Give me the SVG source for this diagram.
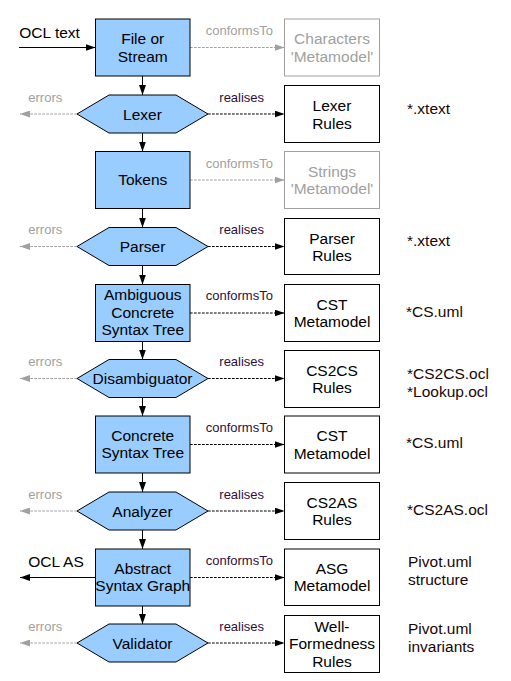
<svg xmlns="http://www.w3.org/2000/svg" width="511" height="681" viewBox="0 0 511 681">
<defs>
<style>
text{font-family:"Liberation Sans",Arial,sans-serif;}
.t{font-size:15.5px;fill:#000;text-anchor:middle;}
.g{font-size:15.5px;fill:#a0a0a0;text-anchor:middle;}
.f{font-size:15.5px;fill:#1a0505;}
.lb{font-size:13px;fill:#2e0f3e;}
.lg{font-size:13px;fill:#a0a0a0;}
.box{fill:#99ccff;stroke:#000;stroke-width:1;}
.rb{fill:#fff;stroke:#000;stroke-width:1;}
.rg{fill:#fff;stroke:#a0a0a0;stroke-width:1;}
.s{stroke:#000;stroke-width:1;fill:none;}
.d{stroke:#000;stroke-width:1;fill:none;stroke-dasharray:2.7,1.3;}
.dg{stroke:#a0a0a0;stroke-width:1;fill:none;stroke-dasharray:2.7,1.3;}
</style>
<marker id="ab" viewBox="0 0 10 7" refX="10" refY="3.5" markerWidth="10" markerHeight="7" markerUnits="userSpaceOnUse" orient="auto"><path d="M0,0 L10,3.5 L0,7 z" fill="#000"/></marker>
<marker id="ag" viewBox="0 0 10 7" refX="10" refY="3.5" markerWidth="10" markerHeight="7" markerUnits="userSpaceOnUse" orient="auto"><path d="M0,0 L10,3.5 L0,7 z" fill="#a0a0a0"/></marker>
</defs>
<rect width="511" height="681" fill="#fff"/>

<g id="connectors">
<line class="s" x1="19" y1="47.5" x2="95.5" y2="47.5" marker-end="url(#ab)"/>
<line class="s" x1="95.5" y1="577.5" x2="20" y2="577.5" marker-end="url(#ab)"/>
<line class="s" x1="142.5" y1="76" x2="142.5" y2="95" marker-end="url(#ab)"/>
<line class="s" x1="142.5" y1="133" x2="142.5" y2="151.5" marker-end="url(#ab)"/>
<line class="s" x1="142.5" y1="208.5" x2="142.5" y2="227.5" marker-end="url(#ab)"/>
<line class="s" x1="142.5" y1="265.5" x2="142.5" y2="284.5" marker-end="url(#ab)"/>
<line class="s" x1="142.5" y1="341.5" x2="142.5" y2="359.5" marker-end="url(#ab)"/>
<line class="s" x1="142.5" y1="397.5" x2="142.5" y2="416" marker-end="url(#ab)"/>
<line class="s" x1="142.5" y1="473" x2="142.5" y2="492" marker-end="url(#ab)"/>
<line class="s" x1="142.5" y1="530" x2="142.5" y2="549" marker-end="url(#ab)"/>
<line class="s" x1="142.5" y1="606" x2="142.5" y2="624" marker-end="url(#ab)"/>
<line class="dg" x1="77" y1="114" x2="20" y2="114" marker-end="url(#ag)"/>
<line class="dg" x1="77" y1="246.5" x2="20" y2="246.5" marker-end="url(#ag)"/>
<line class="dg" x1="77" y1="378.5" x2="20" y2="378.5" marker-end="url(#ag)"/>
<line class="dg" x1="77" y1="511" x2="20" y2="511" marker-end="url(#ag)"/>
<line class="dg" x1="77" y1="643" x2="20" y2="643" marker-end="url(#ag)"/>
<line class="dg" x1="190" y1="47.5" x2="284.5" y2="47.5" marker-end="url(#ag)"/>
<line class="dg" x1="190" y1="180" x2="284.5" y2="180" marker-end="url(#ag)"/>
<line class="d" x1="190" y1="313" x2="284.5" y2="313" marker-end="url(#ab)"/>
<line class="d" x1="190" y1="444.5" x2="284.5" y2="444.5" marker-end="url(#ab)"/>
<line class="d" x1="190" y1="577.5" x2="284.5" y2="577.5" marker-end="url(#ab)"/>
<line class="d" x1="208" y1="114" x2="284.5" y2="114" marker-end="url(#ab)"/>
<line class="d" x1="208" y1="246.5" x2="284.5" y2="246.5" marker-end="url(#ab)"/>
<line class="d" x1="208" y1="378.5" x2="284.5" y2="378.5" marker-end="url(#ab)"/>
<line class="d" x1="208" y1="511" x2="284.5" y2="511" marker-end="url(#ab)"/>
<line class="d" x1="208" y1="643" x2="284.5" y2="643" marker-end="url(#ab)"/>
<text x="19.3" y="38.3" style="font-size:15.5px;fill:#000">OCL text</text>
<text x="28.3" y="566.7" style="font-size:15.5px;fill:#000">OCL AS</text>
<text class="lg" x="28.3" y="101.7">errors</text>
<text class="lg" x="28.3" y="234.2">errors</text>
<text class="lg" x="28.3" y="366.2">errors</text>
<text class="lg" x="28.3" y="498.7">errors</text>
<text class="lg" x="28.3" y="630.7">errors</text>
<text class="lg" x="205.7" y="35">conformsTo</text>
<text class="lg" x="205.7" y="167.5">conformsTo</text>
<text class="lb" x="205.7" y="300">conformsTo</text>
<text class="lb" x="205.7" y="431.5">conformsTo</text>
<text class="lb" x="205.7" y="564.5">conformsTo</text>
<text class="lb" x="219.3" y="101.7">realises</text>
<text class="lb" x="219.3" y="234.2">realises</text>
<text class="lb" x="219.3" y="366.2">realises</text>
<text class="lb" x="219.3" y="498.7">realises</text>
<text class="lb" x="219.3" y="630.7">realises</text>
</g>

<g id="file-or-stream"><rect class="box" x="95.5" y="19" width="94.5" height="57"/><text class="t" x="142.75" y="44.3">File or</text><text class="t" x="142.75" y="62.3">Stream</text></g>
<g id="lexer"><polygon class="box" points="77,114 109,95 176,95 208,114 176,133 109,133"/><text class="t" x="142.5" y="119.5">Lexer</text></g>
<g id="tokens"><rect class="box" x="95.5" y="151.5" width="94.5" height="57"/><text class="t" x="142.75" y="185.3">Tokens</text></g>
<g id="parser"><polygon class="box" points="77,246.5 109,227.5 176,227.5 208,246.5 176,265.5 109,265.5"/><text class="t" x="142.5" y="252">Parser</text></g>
<g id="ambiguous-cst"><rect class="box" x="95.5" y="284.5" width="94.5" height="57"/><text class="t" x="142.75" y="300.2">Ambiguous</text><text class="t" x="142.75" y="317.8">Concrete</text><text class="t" x="142.75" y="335.4">Syntax Tree</text></g>
<g id="disambiguator"><polygon class="box" points="77,378.5 109,359.5 176,359.5 208,378.5 176,397.5 109,397.5"/><text class="t" x="142.5" y="384">Disambiguator</text></g>
<g id="cst"><rect class="box" x="95.5" y="416" width="94.5" height="57"/><text class="t" x="142.75" y="440.7">Concrete</text><text class="t" x="142.75" y="458.3">Syntax Tree</text></g>
<g id="analyzer"><polygon class="box" points="77,511 109,492 176,492 208,511 176,530 109,530"/><text class="t" x="142.5" y="516.5">Analyzer</text></g>
<g id="asg"><rect class="box" x="95.5" y="549" width="94.5" height="57"/><text class="t" x="142.75" y="573.7">Abstract</text><text class="t" x="142.75" y="591.3">Syntax Graph</text></g>
<g id="validator"><polygon class="box" points="77,643 109,624 176,624 208,643 176,662 109,662"/><text class="t" x="142.5" y="648.5">Validator</text></g>

<g id="characters-mm"><rect class="rg" x="284.5" y="19" width="95" height="57"/><text class="g" x="332" y="44.3">Characters</text><text class="g" x="332" y="62.3">'Metamodel'</text></g>
<g id="lexer-rules"><rect class="rb" x="284.5" y="85.5" width="95" height="57"/><text class="t" x="332" y="111">Lexer</text><text class="t" x="332" y="128.5">Rules</text></g>
<g id="strings-mm"><rect class="rg" x="284.5" y="151.5" width="95" height="57"/><text class="g" x="332" y="176.5">Strings</text><text class="g" x="332" y="194">'Metamodel'</text></g>
<g id="parser-rules"><rect class="rb" x="284.5" y="218.5" width="95" height="56"/><text class="t" x="332" y="243.5">Parser</text><text class="t" x="332" y="261">Rules</text></g>
<g id="cst-mm-1"><rect class="rb" x="284.5" y="284.5" width="95" height="57"/><text class="t" x="332" y="309.5">CST</text><text class="t" x="332" y="327">Metamodel</text></g>
<g id="cs2cs-rules"><rect class="rb" x="284.5" y="350.5" width="95" height="57"/><text class="t" x="332" y="375.5">CS2CS</text><text class="t" x="332" y="393">Rules</text></g>
<g id="cst-mm-2"><rect class="rb" x="284.5" y="416" width="95" height="57"/><text class="t" x="332" y="441">CST</text><text class="t" x="332" y="458.5">Metamodel</text></g>
<g id="cs2as-rules"><rect class="rb" x="284.5" y="482.5" width="95" height="57"/><text class="t" x="332" y="507.5">CS2AS</text><text class="t" x="332" y="525">Rules</text></g>
<g id="asg-mm"><rect class="rb" x="284.5" y="549" width="95" height="56.5"/><text class="t" x="332" y="573.7">ASG</text><text class="t" x="332" y="591.3">Metamodel</text></g>
<g id="wf-rules"><rect class="rb" x="284.5" y="615.5" width="95" height="57"/><text class="t" x="332" y="631.7">Well-</text><text class="t" x="332" y="649.3">Formedness</text><text class="t" x="332" y="666.9">Rules</text></g>

<g id="files">
<text class="f" x="407" y="114">*.xtext</text>
<text class="f" x="407" y="246">*.xtext</text>
<text class="f" x="406" y="316.7">*CS.uml</text>
<text class="f" x="407" y="379.3">*CS2CS.ocl</text>
<text class="f" x="407" y="396.7">*Lookup.ocl</text>
<text class="f" x="406" y="448">*CS.uml</text>
<text class="f" x="407" y="515">*CS2AS.ocl</text>
<text class="f" x="408" y="566.7">Pivot.uml</text>
<text class="f" x="408" y="584.5">structure</text>
<text class="f" x="408" y="634">Pivot.uml</text>
<text class="f" x="408" y="651.5">invariants</text>
</g>
</svg>
